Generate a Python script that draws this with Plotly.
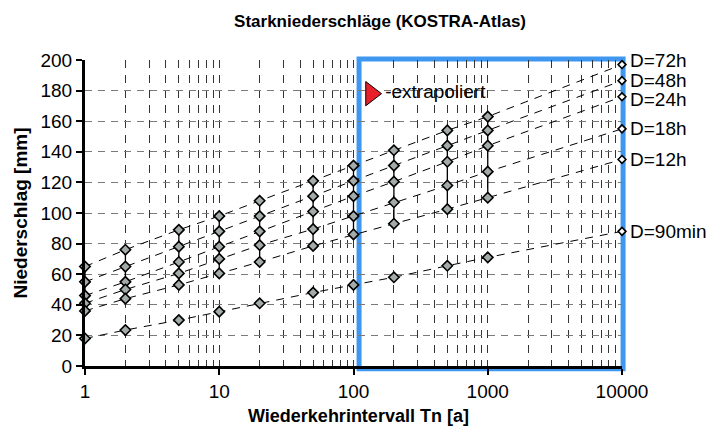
import math
import plotly.graph_objects as go

# ---- data ----
T = [1, 2, 5, 10, 20, 50, 100, 200, 500, 1000]
T_ext = 10000
labels = ["D=72h", "D=48h", "D=24h", "D=18h", "D=12h", "D=90min"]
d72 = [65, 76, 89, 98, 108, 121, 131, 141, 154, 163]
d48 = [55, 65, 78, 88, 98, 111, 121, 131, 144, 154]
d24 = [46, 55, 68, 78, 88, 101, 111, 120.5, 133.5, 144]
d18 = [41, 50, 60.5, 70, 79, 89.5, 98, 107, 118, 127]
d12 = [36, 44, 53, 60.5, 68, 78.5, 86, 93, 102.5, 110]
d90 = [18, 23.5, 30, 35.5, 41, 48, 53, 58, 65.5, 71]
ext = [197, 186.5, 176, 155, 135, 88]
extra_label = "extrapoliert"
extra_point = (135, 178)
extrap_start = 110

series = [d72, d48, d24, d18, d12, d90]
y_ticks = list(range(0, 201, 20))
x_ticks = [1, 10, 100, 1000, 10000]
minor_vals = [m * 10 ** k for k in range(4) for m in range(2, 10)]
X_RANGE = [math.log10(x_ticks[0]), math.log10(x_ticks[-1])]

FONT = "Liberation Sans, Arial, sans-serif"
fig = go.Figure()

# blue rectangle (extrapolated region), in paper coords so it is not clipped
px0 = (math.log10(extrap_start) - X_RANGE[0]) / (X_RANGE[1] - X_RANGE[0])
fig.add_shape(type="rect", xref="paper", yref="paper",
              x0=px0, x1=1.002, y0=-0.009, y1=1.003,
              line=dict(color="#3f97ef", width=5), layer="below")

# dashed connecting lines incl. extrapolated point
for s, e in zip(series, ext):
    fig.add_trace(go.Scatter(
        x=T + [T_ext], y=s + [e], mode="lines",
        line=dict(color="black", width=1, dash="8px,7px"),
        showlegend=False, hoverinfo="skip"))

# vertical solid connector between the upper five series at each T
vx, vy = [], []
for i, t in enumerate(T):
    vals = [s[i] for s in series[:5]]
    vx += [t, t, None]
    vy += [min(vals), max(vals), None]
fig.add_trace(go.Scatter(x=vx, y=vy, mode="lines",
                         line=dict(color="black", width=1.3),
                         showlegend=False, hoverinfo="skip"))

# grey diamond markers
for s in series:
    fig.add_trace(go.Scatter(
        x=T, y=s, mode="markers",
        marker=dict(symbol="diamond", size=8, color="#a3abaa",
                    line=dict(color="black", width=1.6)),
        cliponaxis=False, showlegend=False))

# extrapolated markers
fig.add_trace(go.Scatter(
    x=[T_ext] * len(ext), y=ext, mode="markers",
    marker=dict(symbol="diamond", size=6, color="white",
                line=dict(color="black", width=1.6)),
    cliponaxis=False, showlegend=False))

# legend-like marker
fig.add_trace(go.Scatter(
    x=[extra_point[0]], y=[extra_point[1]], mode="markers+text",
    marker=dict(symbol="triangle-right", size=21, color="#e8202a",
                line=dict(color="black", width=1)),
    text=["-" + extra_label], textposition="middle right",
    textfont=dict(family=FONT, size=19, color="black"),
    cliponaxis=False, showlegend=False))

# right labels
yshifts = [-4, 0, 3, 0, 0, 0]
for lab, e, ys in zip(labels, ext, yshifts):
    fig.add_annotation(x=math.log10(T_ext), y=e, text=lab, showarrow=False,
                       xanchor="left", yanchor="middle", xshift=6, yshift=-ys,
                       font=dict(family=FONT, size=19, color="black"))

# x axis title as annotation (finer vertical placement)
fig.add_annotation(xref="paper", yref="paper", x=0.51, y=-0.163,
                   text="<b>Wiederkehrintervall Tn [a]</b>", showarrow=False,
                   xanchor="center", yanchor="middle",
                   font=dict(family=FONT, size=18, color="black"))

fig.update_layout(
    width=706, height=420,
    margin=dict(l=77, r=92, t=52, b=62),
    paper_bgcolor="white", plot_bgcolor="white",
    font=dict(family=FONT, size=19, color="black"),
    title=dict(text="<b>Starkniederschläge (KOSTRA-Atlas)</b>",
               x=0.527, xanchor="center", y=0.969, yanchor="middle",
               font=dict(family=FONT, size=17, color="black")),
)
fig.update_xaxes(
    type="log", range=X_RANGE, tickvals=x_ticks,
    ticktext=[str(v) for v in x_ticks], automargin=False,
    showline=True, linecolor="black", linewidth=3,
    ticks="outside", ticklen=6, tickwidth=2, tickcolor="black",
    showgrid=True, gridcolor="#333333", gridwidth=1, griddash="8px,7px",
    minor=dict(tickvals=minor_vals, showgrid=True, gridcolor="#333333",
               gridwidth=1, griddash="8px,7px", ticks=""),
    zeroline=False,
    tickfont=dict(size=19),
)
fig.update_yaxes(
    range=[0, 200], tickvals=y_ticks, automargin=False,
    showline=True, linecolor="black", linewidth=3,
    ticks="outside", ticklen=6, tickwidth=2, tickcolor="black",
    showgrid=True, gridcolor="#7a7a7a", gridwidth=1, griddash="7px,6px",
    zeroline=False,
    title=dict(text="<b>Niederschlag [mm]</b>", standoff=8,
               font=dict(family=FONT, size=19)),
    tickfont=dict(size=19),
)

fig.write_html("out.html")
